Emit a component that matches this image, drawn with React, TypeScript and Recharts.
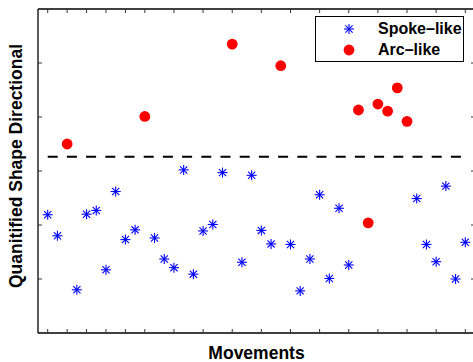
import React from 'react';
import { ScatterChart, Scatter, XAxis, YAxis, ReferenceLine, Legend } from 'recharts';

// ---- data ----
const spokeName = 'Spoke–like';
const arcName = 'Arc–like';
const seriesOrder = [spokeName, arcName];
const spokeX = [1, 2, 4, 5, 6, 7, 8, 9, 10, 12, 13, 14, 15, 16, 17, 18, 19, 21, 22, 23, 24, 26, 27, 28, 29, 30, 31, 32, 39, 40, 41, 42, 43, 44];
const spokeY = [2.19, 1.8, 0.8, 2.2, 2.27, 1.17, 2.62, 1.73, 1.91, 1.76, 1.37, 1.21, 3.02, 1.09, 1.89, 2.01, 2.97, 1.31, 2.92, 1.9, 1.65, 1.64, 0.78, 1.37, 2.56, 1.01, 2.31, 1.26, 2.49, 1.64, 1.32, 2.72, 1.0, 1.68];
const arcX = [3, 11, 20, 25, 33, 34, 35, 36, 37, 38];
const arcY = [3.5, 4.01, 5.35, 4.95, 4.13, 2.04, 4.24, 4.11, 4.54, 3.92];
const thresholdY = 3.265;
const thresholdFrom = 1;
const thresholdTo = 44;
const xDomain: [number, number] = [0, 45];
const yDomain: [number, number] = [0, 6];
const xTicks = [1, 2, 3, 4, 5, 6, 7, 8, 9, 10, 11, 12, 13, 14, 15, 16, 17, 18, 19, 20, 21, 22, 23, 24, 25, 26, 27, 28, 29, 30, 31, 32, 33, 34, 35, 36, 37, 38, 39, 40, 41, 42, 43, 44];
const yTicks = [1, 2, 3, 4, 5];
const xLabel = 'Movements';
const yLabel = 'Quanitified Shape Directional';

const spokeData = spokeX.map((x, i) => ({ x, y: spokeY[i] }));
const arcData = arcX.map((x, i) => ({ x, y: arcY[i] }));

const FONT = '"Liberation Sans", Arial, Helvetica, sans-serif';
const BLUE = '#0000ff';
const RED = '#ff0000';

const AsteriskGlyph = ({ cx, cy }: { cx: number; cy: number }) => {
  const r = 5;
  const d = 3.6;
  return (
    <g stroke={BLUE} strokeWidth={1.1}>
      <line x1={cx - r} y1={cy} x2={cx + r} y2={cy} />
      <line x1={cx} y1={cy - r} x2={cx} y2={cy + r} />
      <line x1={cx - d} y1={cy - d} x2={cx + d} y2={cy + d} />
      <line x1={cx - d} y1={cy + d} x2={cx + d} y2={cy - d} />
    </g>
  );
};

const AsteriskShape = (props: any) => {
  const { cx, cy } = props;
  if (cx == null || cy == null) return null;
  return <AsteriskGlyph cx={cx} cy={cy} />;
};

const DotShape = (props: any) => {
  const { cx, cy } = props;
  if (cx == null || cy == null) return null;
  return <circle cx={cx} cy={cy} r={5.4} fill={RED} />;
};

const NoTick = () => <g />;

const XLabelContent = (props: any) => {
  const vb = props.viewBox || {};
  const x = vb.x + vb.width / 2;
  const y = vb.y + 25.5;
  return (
    <text x={x} y={y} textAnchor="middle" fontFamily={FONT} fontWeight="bold" fontSize={17.5} fill="#000">
      {xLabel}
    </text>
  );
};

const YLabelContent = (props: any) => {
  const vb = props.viewBox || {};
  const x = vb.x + 16;
  const y = vb.y + vb.height / 2 - 5;
  return (
    <text
      x={x}
      y={y}
      transform={`rotate(-90 ${x} ${y})`}
      textAnchor="middle"
      dominantBaseline="central"
      fontFamily={FONT}
      fontWeight="bold"
      fontSize={17.5}
      fill="#000"
    >
      {yLabel}
    </text>
  );
};

const LegendBox = (props: any) => {
  const raw = props.payload || [];
  const items = seriesOrder
    .map((n) => raw.find((p: any) => p.value === n))
    .filter(Boolean);
  return (
    <div
      style={{
        position: 'relative',
        width: 149,
        height: 46,
        boxSizing: 'border-box',
        border: '1px solid #000',
        background: '#fff',
        fontFamily: FONT,
        fontWeight: 'bold',
        fontSize: 16,
        color: '#000',
      }}
    >
      {items.map((p: any, i: number) => {
        const centerY = 13.3 + i * 20.3 - 1;
        return (
          <div key={i}>
            <svg
              width={14}
              height={14}
              style={{ position: 'absolute', left: 33.6 - 1 - 7, top: centerY - 7 }}
            >
              {p.value === spokeName ? (
                <AsteriskGlyph cx={7} cy={7} />
              ) : (
                <circle cx={7} cy={7} r={5.4} fill={RED} />
              )}
            </svg>
            <span
              style={{
                position: 'absolute',
                left: 62,
                top: centerY - 10,
                lineHeight: '20px',
                whiteSpace: 'nowrap',
              }}
            >
              {p.value}
            </span>
          </div>
        );
      })}
    </div>
  );
};

const axisLineStyle = { stroke: '#000', strokeWidth: 1.3 };
const tickLineStyle = { stroke: '#333', strokeWidth: 1 };

export default function App() {
  return (
    <div style={{ position: 'absolute', left: 0, top: 0, width: 473, height: 362, overflow: 'hidden', background: '#fff' }}>
      <ScatterChart width={480} height={362} margin={{ top: 8, right: 4, bottom: 0, left: 0 }}>
        <XAxis
          xAxisId={0}
          type="number"
          dataKey="x"
          domain={xDomain}
          ticks={xTicks}
          allowDataOverflow
          orientation="bottom"
          height={29}
          tickSize={-4}
          tickMargin={0}
          tick={NoTick}
          axisLine={axisLineStyle}
          tickLine={tickLineStyle}
          label={{ content: XLabelContent }}
        />
        <XAxis
          xAxisId="top"
          type="number"
          dataKey="x"
          domain={xDomain}
          ticks={xTicks}
          allowDataOverflow
          orientation="top"
          height={1}
          tickSize={-4}
          tickMargin={0}
          tick={NoTick}
          axisLine={axisLineStyle}
          tickLine={tickLineStyle}
        />
        <YAxis
          yAxisId={0}
          type="number"
          dataKey="y"
          domain={yDomain}
          ticks={yTicks}
          allowDataOverflow
          orientation="left"
          width={38}
          tickSize={-4}
          tickMargin={0}
          tick={NoTick}
          axisLine={axisLineStyle}
          tickLine={tickLineStyle}
          label={{ content: YLabelContent }}
        />
        <YAxis
          yAxisId="right"
          type="number"
          dataKey="y"
          domain={yDomain}
          ticks={yTicks}
          allowDataOverflow
          orientation="right"
          width={1}
          tickSize={-4}
          tickMargin={0}
          tick={NoTick}
          axisLine={axisLineStyle}
          tickLine={tickLineStyle}
        />
        <ReferenceLine
          xAxisId={0}
          yAxisId={0}
          segment={[
            { x: thresholdFrom, y: thresholdY },
            { x: thresholdTo, y: thresholdY },
          ]}
          stroke="#000"
          strokeWidth={2}
          strokeDasharray="10 9.2"
        />
        <Scatter
          name={spokeName}
          data={spokeData}
          xAxisId={0}
          yAxisId={0}
          fill={BLUE}
          shape={AsteriskShape}
          isAnimationActive={false}
        />
        <Scatter
          name={arcName}
          data={arcData}
          xAxisId={0}
          yAxisId={0}
          fill={RED}
          shape={DotShape}
          isAnimationActive={false}
        />
        <Legend
          layout="vertical"
          align="center"
          verticalAlign="middle"
          content={LegendBox}
          wrapperStyle={{ left: 315, top: 16, width: 149, height: 46 }}
        />
      </ScatterChart>
    </div>
  );
}
